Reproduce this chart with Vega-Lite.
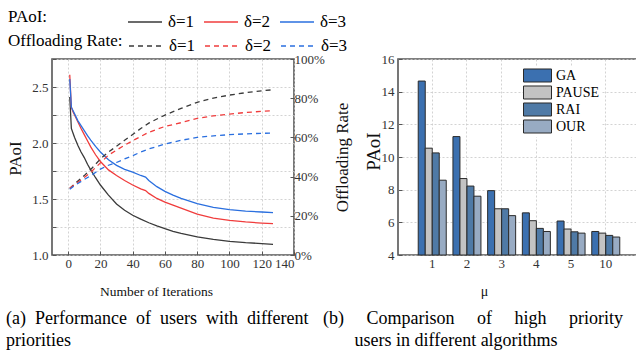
{
  "$schema": "https://vega.github.io/schema/vega-lite/v6.json",
  "background": "white",
  "padding": {"left": 5, "top": 3, "right": 0, "bottom": 0},
  "bounds": "flush",
  "spacing": 104,
  "config": {
    "font": "Liberation Serif",
    "view": {"stroke": "#555", "strokeWidth": 1.6},
    "axis": {
      "labelFont": "Liberation Serif", "labelFontSize": 13, "labelColor": "#333",
      "titleFont": "Liberation Serif", "titleFontWeight": "normal", "titleColor": "#111",
      "domain": false, "tickColor": "#555", "tickSize": -4, "labelPadding": 8, "labelOverlap": false,
      "gridColor": "#c8c8c8", "gridDash": [2, 2], "gridWidth": 0.8
    },
    "legend": {"labelFont": "Liberation Serif", "titleFont": "Liberation Serif", "titleFontWeight": "normal"},
    "title": {"font": "Liberation Serif"}
  },
  "datasets": {
    "paoi": [
      {"iteration": 1, "delta": "δ=1", "paoi": 2.41}, {"iteration": 2, "delta": "δ=1", "paoi": 2.13}, {"iteration": 3, "delta": "δ=1", "paoi": 2.09}, {"iteration": 4, "delta": "δ=1", "paoi": 2.05}, {"iteration": 6, "delta": "δ=1", "paoi": 1.98}, {"iteration": 8, "delta": "δ=1", "paoi": 1.92}, {"iteration": 10, "delta": "δ=1", "paoi": 1.87}, {"iteration": 12, "delta": "δ=1", "paoi": 1.81}, {"iteration": 14, "delta": "δ=1", "paoi": 1.76}, {"iteration": 17, "delta": "δ=1", "paoi": 1.69}, {"iteration": 20, "delta": "δ=1", "paoi": 1.625}, {"iteration": 25, "delta": "δ=1", "paoi": 1.535}, {"iteration": 30, "delta": "δ=1", "paoi": 1.455}, {"iteration": 35, "delta": "δ=1", "paoi": 1.4}, {"iteration": 40, "delta": "δ=1", "paoi": 1.355}, {"iteration": 45, "delta": "δ=1", "paoi": 1.32}, {"iteration": 50, "delta": "δ=1", "paoi": 1.288}, {"iteration": 55, "delta": "δ=1", "paoi": 1.26}, {"iteration": 60, "delta": "δ=1", "paoi": 1.235}, {"iteration": 65, "delta": "δ=1", "paoi": 1.212}, {"iteration": 70, "delta": "δ=1", "paoi": 1.194}, {"iteration": 80, "delta": "δ=1", "paoi": 1.162}, {"iteration": 90, "delta": "δ=1", "paoi": 1.14}, {"iteration": 100, "delta": "δ=1", "paoi": 1.122}, {"iteration": 110, "delta": "δ=1", "paoi": 1.11}, {"iteration": 120, "delta": "δ=1", "paoi": 1.102}, {"iteration": 127, "delta": "δ=1", "paoi": 1.095},
      {"iteration": 1, "delta": "δ=2", "paoi": 2.61}, {"iteration": 2, "delta": "δ=2", "paoi": 2.32}, {"iteration": 3, "delta": "δ=2", "paoi": 2.28}, {"iteration": 4, "delta": "δ=2", "paoi": 2.25}, {"iteration": 6, "delta": "δ=2", "paoi": 2.19}, {"iteration": 8, "delta": "δ=2", "paoi": 2.13}, {"iteration": 10, "delta": "δ=2", "paoi": 2.075}, {"iteration": 12, "delta": "δ=2", "paoi": 2.02}, {"iteration": 14, "delta": "δ=2", "paoi": 1.965}, {"iteration": 17, "delta": "δ=2", "paoi": 1.895}, {"iteration": 20, "delta": "δ=2", "paoi": 1.835}, {"iteration": 25, "delta": "δ=2", "paoi": 1.76}, {"iteration": 30, "delta": "δ=2", "paoi": 1.71}, {"iteration": 35, "delta": "δ=2", "paoi": 1.665}, {"iteration": 40, "delta": "δ=2", "paoi": 1.625}, {"iteration": 45, "delta": "δ=2", "paoi": 1.59}, {"iteration": 48, "delta": "δ=2", "paoi": 1.575}, {"iteration": 50, "delta": "δ=2", "paoi": 1.55}, {"iteration": 55, "delta": "δ=2", "paoi": 1.505}, {"iteration": 60, "delta": "δ=2", "paoi": 1.472}, {"iteration": 65, "delta": "δ=2", "paoi": 1.445}, {"iteration": 70, "delta": "δ=2", "paoi": 1.418}, {"iteration": 80, "delta": "δ=2", "paoi": 1.365}, {"iteration": 90, "delta": "δ=2", "paoi": 1.33}, {"iteration": 100, "delta": "δ=2", "paoi": 1.31}, {"iteration": 110, "delta": "δ=2", "paoi": 1.295}, {"iteration": 120, "delta": "δ=2", "paoi": 1.285}, {"iteration": 127, "delta": "δ=2", "paoi": 1.28},
      {"iteration": 1, "delta": "δ=3", "paoi": 2.57}, {"iteration": 2, "delta": "δ=3", "paoi": 2.32}, {"iteration": 3, "delta": "δ=3", "paoi": 2.29}, {"iteration": 4, "delta": "δ=3", "paoi": 2.26}, {"iteration": 6, "delta": "δ=3", "paoi": 2.2}, {"iteration": 8, "delta": "δ=3", "paoi": 2.155}, {"iteration": 10, "delta": "δ=3", "paoi": 2.11}, {"iteration": 12, "delta": "δ=3", "paoi": 2.065}, {"iteration": 14, "delta": "δ=3", "paoi": 2.025}, {"iteration": 17, "delta": "δ=3", "paoi": 1.97}, {"iteration": 20, "delta": "δ=3", "paoi": 1.92}, {"iteration": 25, "delta": "δ=3", "paoi": 1.85}, {"iteration": 30, "delta": "δ=3", "paoi": 1.8}, {"iteration": 35, "delta": "δ=3", "paoi": 1.765}, {"iteration": 40, "delta": "δ=3", "paoi": 1.74}, {"iteration": 45, "delta": "δ=3", "paoi": 1.71}, {"iteration": 48, "delta": "δ=3", "paoi": 1.695}, {"iteration": 50, "delta": "δ=3", "paoi": 1.665}, {"iteration": 55, "delta": "δ=3", "paoi": 1.61}, {"iteration": 60, "delta": "δ=3", "paoi": 1.568}, {"iteration": 65, "delta": "δ=3", "paoi": 1.535}, {"iteration": 70, "delta": "δ=3", "paoi": 1.505}, {"iteration": 80, "delta": "δ=3", "paoi": 1.458}, {"iteration": 90, "delta": "δ=3", "paoi": 1.425}, {"iteration": 100, "delta": "δ=3", "paoi": 1.405}, {"iteration": 110, "delta": "δ=3", "paoi": 1.392}, {"iteration": 120, "delta": "δ=3", "paoi": 1.384}, {"iteration": 127, "delta": "δ=3", "paoi": 1.378}
    ],
    "offload": [
      {"iteration": 1, "delta": "δ=1", "rate": 0.34}, {"iteration": 5, "delta": "δ=1", "rate": 0.37}, {"iteration": 10, "delta": "δ=1", "rate": 0.405}, {"iteration": 15, "delta": "δ=1", "rate": 0.445}, {"iteration": 20, "delta": "δ=1", "rate": 0.49}, {"iteration": 25, "delta": "δ=1", "rate": 0.525}, {"iteration": 30, "delta": "δ=1", "rate": 0.555}, {"iteration": 35, "delta": "δ=1", "rate": 0.585}, {"iteration": 40, "delta": "δ=1", "rate": 0.615}, {"iteration": 45, "delta": "δ=1", "rate": 0.645}, {"iteration": 50, "delta": "δ=1", "rate": 0.673}, {"iteration": 60, "delta": "δ=1", "rate": 0.714}, {"iteration": 70, "delta": "δ=1", "rate": 0.748}, {"iteration": 80, "delta": "δ=1", "rate": 0.779}, {"iteration": 90, "delta": "δ=1", "rate": 0.8}, {"iteration": 100, "delta": "δ=1", "rate": 0.816}, {"iteration": 110, "delta": "δ=1", "rate": 0.828}, {"iteration": 120, "delta": "δ=1", "rate": 0.838}, {"iteration": 127, "delta": "δ=1", "rate": 0.843},
      {"iteration": 1, "delta": "δ=2", "rate": 0.34}, {"iteration": 5, "delta": "δ=2", "rate": 0.365}, {"iteration": 10, "delta": "δ=2", "rate": 0.395}, {"iteration": 15, "delta": "δ=2", "rate": 0.43}, {"iteration": 20, "delta": "δ=2", "rate": 0.47}, {"iteration": 25, "delta": "δ=2", "rate": 0.51}, {"iteration": 30, "delta": "δ=2", "rate": 0.535}, {"iteration": 35, "delta": "δ=2", "rate": 0.56}, {"iteration": 40, "delta": "δ=2", "rate": 0.583}, {"iteration": 45, "delta": "δ=2", "rate": 0.605}, {"iteration": 50, "delta": "δ=2", "rate": 0.626}, {"iteration": 60, "delta": "δ=2", "rate": 0.656}, {"iteration": 70, "delta": "δ=2", "rate": 0.675}, {"iteration": 80, "delta": "δ=2", "rate": 0.697}, {"iteration": 90, "delta": "δ=2", "rate": 0.71}, {"iteration": 100, "delta": "δ=2", "rate": 0.719}, {"iteration": 110, "delta": "δ=2", "rate": 0.727}, {"iteration": 120, "delta": "δ=2", "rate": 0.733}, {"iteration": 125, "delta": "δ=2", "rate": 0.735},
      {"iteration": 1, "delta": "δ=3", "rate": 0.335}, {"iteration": 5, "delta": "δ=3", "rate": 0.36}, {"iteration": 10, "delta": "δ=3", "rate": 0.385}, {"iteration": 15, "delta": "δ=3", "rate": 0.41}, {"iteration": 20, "delta": "δ=3", "rate": 0.438}, {"iteration": 25, "delta": "δ=3", "rate": 0.458}, {"iteration": 30, "delta": "δ=3", "rate": 0.472}, {"iteration": 35, "delta": "δ=3", "rate": 0.49}, {"iteration": 40, "delta": "δ=3", "rate": 0.507}, {"iteration": 45, "delta": "δ=3", "rate": 0.525}, {"iteration": 50, "delta": "δ=3", "rate": 0.541}, {"iteration": 60, "delta": "δ=3", "rate": 0.566}, {"iteration": 70, "delta": "δ=3", "rate": 0.585}, {"iteration": 80, "delta": "δ=3", "rate": 0.6}, {"iteration": 90, "delta": "δ=3", "rate": 0.608}, {"iteration": 100, "delta": "δ=3", "rate": 0.614}, {"iteration": 110, "delta": "δ=3", "rate": 0.618}, {"iteration": 120, "delta": "δ=3", "rate": 0.621}, {"iteration": 127, "delta": "δ=3", "rate": 0.622}
    ],
    "bars": [
      {"mu": "1", "algorithm": "GA", "paoi": 14.65}, {"mu": "1", "algorithm": "PAUSE", "paoi": 10.54}, {"mu": "1", "algorithm": "RAI", "paoi": 10.25}, {"mu": "1", "algorithm": "OUR", "paoi": 8.58},
      {"mu": "2", "algorithm": "GA", "paoi": 11.25}, {"mu": "2", "algorithm": "PAUSE", "paoi": 8.68}, {"mu": "2", "algorithm": "RAI", "paoi": 8.22}, {"mu": "2", "algorithm": "OUR", "paoi": 7.6},
      {"mu": "3", "algorithm": "GA", "paoi": 7.94}, {"mu": "3", "algorithm": "PAUSE", "paoi": 6.83}, {"mu": "3", "algorithm": "RAI", "paoi": 6.83}, {"mu": "3", "algorithm": "OUR", "paoi": 6.41},
      {"mu": "4", "algorithm": "GA", "paoi": 6.58}, {"mu": "4", "algorithm": "PAUSE", "paoi": 6.1}, {"mu": "4", "algorithm": "RAI", "paoi": 5.63}, {"mu": "4", "algorithm": "OUR", "paoi": 5.44},
      {"mu": "5", "algorithm": "GA", "paoi": 6.08}, {"mu": "5", "algorithm": "PAUSE", "paoi": 5.59}, {"mu": "5", "algorithm": "RAI", "paoi": 5.42}, {"mu": "5", "algorithm": "OUR", "paoi": 5.34},
      {"mu": "10", "algorithm": "GA", "paoi": 5.44}, {"mu": "10", "algorithm": "PAUSE", "paoi": 5.34}, {"mu": "10", "algorithm": "RAI", "paoi": 5.2}, {"mu": "10", "algorithm": "OUR", "paoi": 5.1}
    ]
  },
  "hconcat": [
    {
      "width": 242,
      "height": 196,
      "title": {"text": ["(a)\u00a0\u00a0Performance\u00a0\u00a0of\u00a0\u00a0users\u00a0\u00a0with\u00a0\u00a0different", "priorities"], "orient": "bottom", "anchor": "start", "frame": "group", "dx": -46, "fontSize": 18, "fontWeight": "normal", "offset": 12, "lineHeight": 22, "color": "#000"},
      "layer": [
        {
          "data": {"name": "paoi"},
          "mark": {"type": "line", "strokeWidth": 1.3},
          "encoding": {
            "x": {"field": "iteration", "type": "quantitative", "scale": {"domain": [-10, 140], "nice": false, "zero": false},
              "axis": {"values": [0, 20, 40, 60, 80, 100, 120, 140], "labelOverlap": false, "labelSeparation": 0, "title": "Number of Iterations", "grid": true, "titleFontSize": 13.5, "titleX": 104, "titleY": 36, "titleBaseline": "middle", "labelPadding": 6}},
            "y": {"field": "paoi", "type": "quantitative", "scale": {"domain": [1, 2.75], "nice": false, "zero": false},
              "axis": {"values": [1, 1.25, 1.5, 1.75, 2, 2.25, 2.5, 2.75], "labelExpr": "(datum.value * 4) % 2 == 0 ? format(datum.value, '.1f') : ''", "labelFlush": false, "title": "PAoI", "grid": true, "titleFontSize": 17, "titleX": -37, "titleY": 99, "titleBaseline": "middle", "titleAngle": -90}},
            "color": {"field": "delta", "type": "nominal", "scale": {"domain": ["δ=1", "δ=2", "δ=3"], "range": ["#3a3a3a", "#f03c3c", "#2a6fdf"]},
              "legend": {"orient": "none", "legendX": -44, "legendY": -55, "direction": "horizontal", "title": "PAoI:", "titleOrient": "left", "titleFontSize": 17, "titleColor": "#000", "titlePadding": 79, "labelFontSize": 17, "labelColor": "#000", "symbolType": "stroke", "symbolSize": 1156, "symbolStrokeWidth": 1.3, "labelOffset": 5, "columnPadding": 6, "padding": 0}}
          }
        },
        {
          "data": {"name": "offload"},
          "mark": {"type": "line", "strokeWidth": 1.3, "strokeDash": [5, 4]},
          "encoding": {
            "x": {"field": "iteration", "type": "quantitative", "axis": {"values": [0, 20, 40, 60, 80, 100, 120, 140], "labelOverlap": false, "labelSeparation": 0, "title": "Number of Iterations", "grid": true, "titleFontSize": 13.5, "titleX": 104, "titleY": 36, "titleBaseline": "middle", "labelPadding": 6}},
            "y": {"field": "rate", "type": "quantitative", "scale": {"domain": [0, 1], "nice": false},
              "axis": {"orient": "right", "format": ".0%", "values": [0, 0.2, 0.4, 0.6, 0.8, 1], "labelFlush": false, "grid": false, "title": "Offloading Rate", "titleFontSize": 17, "titleX": 48, "titleY": 98, "titleBaseline": "middle", "titleAngle": 270, "labelPadding": 4}},
            "color": {"field": "delta", "type": "nominal", "scale": {"domain": ["δ=1", "δ=2", "δ=3"], "range": ["#3a3a3a", "#f03c3c", "#2a6fdf"]},
              "legend": {"orient": "none", "legendX": -44, "legendY": -31, "direction": "horizontal", "title": "Offloading Rate:", "titleOrient": "left", "titleFontSize": 17, "titleColor": "#000", "titlePadding": 5, "labelFontSize": 17, "labelColor": "#000", "symbolType": "stroke", "symbolSize": 1156, "symbolStrokeWidth": 1.3, "symbolDash": [5, 4], "labelOffset": 5, "columnPadding": 6, "padding": 0}}
          }
        }
      ],
      "resolve": {"scale": {"y": "independent", "color": "independent"}}
    },
    {
      "width": 242,
      "height": 196,
      "data": {"name": "bars"},
      "title": {"text": ["(b)\u00a0\u00a0\u00a0\u00a0\u00a0Comparison\u00a0\u00a0\u00a0\u00a0\u00a0of\u00a0\u00a0\u00a0\u00a0\u00a0high\u00a0\u00a0\u00a0\u00a0\u00a0priority", "\u200b\u00a0\u00a0\u00a0\u00a0\u00a0\u00a0\u00a0users in different algorithms"], "orient": "bottom", "anchor": "start", "frame": "group", "dx": -75, "fontSize": 18, "fontWeight": "normal", "offset": 12, "lineHeight": 22, "color": "#000"},
      "mark": {"type": "bar", "stroke": "#2a2a2a", "strokeWidth": 1},
      "encoding": {
        "x": {"field": "mu", "type": "ordinal", "sort": ["1", "2", "3", "4", "5", "10"], "scale": {"paddingInner": 0.193, "paddingOuter": 0.583},
          "axis": {"title": "μ", "labelAngle": 0, "grid": true, "bandPosition": 0.5, "titleFontSize": 14, "titleX": 86, "titleY": 36, "titleBaseline": "middle", "labelPadding": 6}},
        "xOffset": {"field": "algorithm", "type": "nominal", "sort": ["GA", "PAUSE", "RAI", "OUR"], "scale": {"paddingInner": 0, "paddingOuter": 0}},
        "y": {"field": "paoi", "type": "quantitative", "scale": {"domain": [4, 16], "nice": false, "zero": false},
          "axis": {"values": [4, 6, 8, 10, 12, 14, 16], "labelFlush": false, "title": "PAoI", "grid": true, "titleFontSize": 19, "titleX": -25, "titleY": 92, "titleBaseline": "middle", "titleAngle": -90}},
        "y2": {"datum": 4},
        "fill": {"field": "algorithm", "type": "nominal", "sort": ["GA", "PAUSE", "RAI", "OUR"], "scale": {"domain": ["GA", "PAUSE", "RAI", "OUR"], "range": ["#3b70b0", "#c3c3c3", "#4f7aa6", "#98abc3"]},
          "legend": {"orient": "none", "legendX": 477, "legendY": 8, "title": null, "symbolType": "M-2,-0.93H2V0.93H-2Z", "symbolSize": 196, "symbolStrokeColor": "#2a2a2a", "symbolStrokeWidth": 1, "symbolOpacity": 1, "labelFontSize": 14, "labelColor": "#000", "labelOffset": 11, "rowPadding": -3, "fillColor": "white", "padding": 1}}
      }
    }
  ]
}
